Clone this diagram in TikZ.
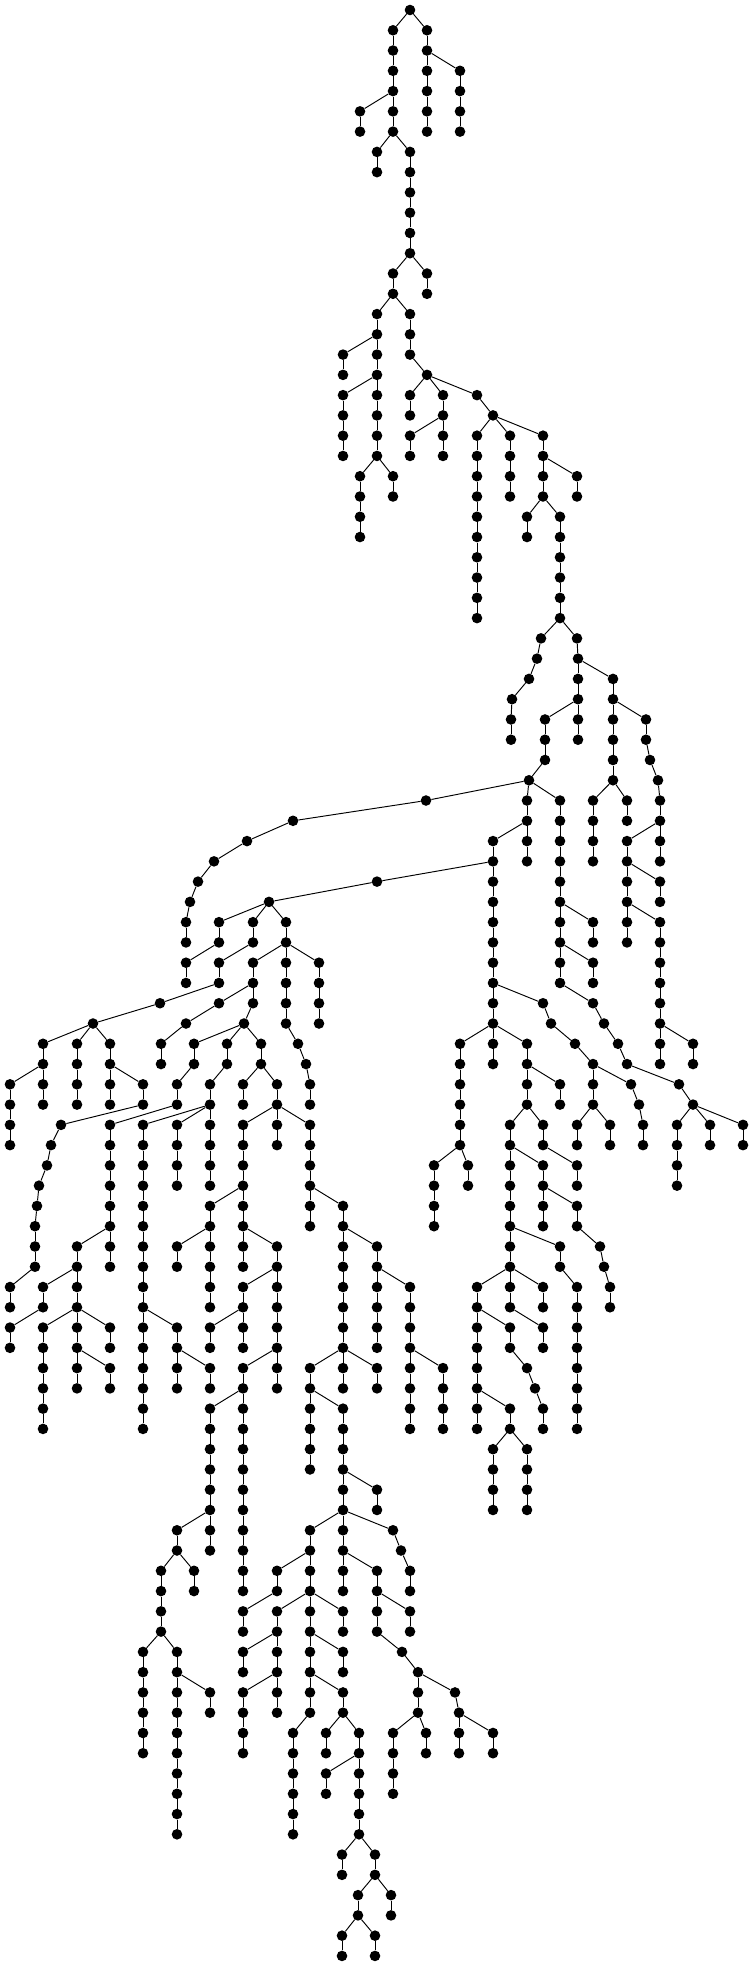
\documentclass[tikz,border=0pt]{standalone}
\begin{document}
\begin{tikzpicture}[x=1pt,y=1pt,
  dot/.style={circle,fill=black,inner sep=0pt,minimum size=10.6pt},
  edge/.style={line width=0.95pt,black}]
\path[use as bounding box] (0,0) rectangle (754,-1966);
\node[dot] (n0-410) at (410,-10) {};
\foreach \x/\l/\p in {
393/1/410, 427/1/410,
393/2/393, 427/2/427,
393/3/393, 427/3/427, 460/3/427,
393/4/393, 427/4/427, 460/4/460,
360/5/393, 393/5/393, 427/5/427, 460/5/460,
360/6/360, 393/6/393, 427/6/427, 460/6/460,
377/7/393, 410/7/393,
377/8/377, 410/8/410,
410/9/410, 410/10/410, 410/11/410, 410/12/410,
393/13/410, 427/13/410,
393/14/393, 427/14/427,
377/15/393, 410/15/393,
377/16/377, 410/16/410,
343/17/377, 377/17/377, 410/17/410,
343/18/343, 377/18/377, 427/18/410,
343/19/377, 377/19/377, 410/19/427, 443/19/427, 477/19/427,
343/20/343, 377/20/377, 410/20/410, 443/20/443, 493/20/477,
343/21/343, 377/21/377, 410/21/443, 443/21/443, 477/21/493, 510/21/493, 543/21/493,
343/22/343, 377/22/377, 410/22/410, 443/22/443, 477/22/477, 510/22/510, 543/22/543,
360/23/377, 393/23/377, 477/23/477, 510/23/510, 543/23/543, 577/23/543,
360/24/360, 393/24/393, 477/24/477, 510/24/510, 543/24/543, 577/24/577,
360/25/360, 477/25/477, 527/25/543, 560/25/543,
360/26/360, 477/26/477, 527/26/527, 560/26/560,
477/27/477, 560/27/560,
477/28/477, 560/28/560,
477/29/477, 560/29/560,
477/30/477, 560/30/560,
541/31/560, 577/31/560,
537/32/541, 578/32/577,
529/33/537, 578/33/578, 613/33/578,
512/34/529, 578/34/578, 613/34/613,
511/35/512, 545/35/578, 578/35/578, 613/35/613, 646/35/613,
511/36/511, 545/36/545, 578/36/578, 613/36/613, 646/36/646,
545/37/545, 613/37/613, 650/37/646,
529/38/545, 613/38/613, 658/38/650,
426/39/529, 527/39/529, 560/39/529, 593/39/613, 627/39/613, 660/39/658,
293/40/426, 527/40/527, 560/40/560, 593/40/593, 627/40/627, 660/40/660,
247/41/293, 493/41/527, 527/41/527, 560/41/560, 593/41/593, 627/41/660, 660/41/660,
214/42/247, 493/42/493, 527/42/527, 560/42/560, 593/42/593, 627/42/627, 660/42/660,
198/43/214, 377/43/493, 493/43/493, 560/43/560, 627/43/627, 660/43/627,
190/44/198, 269/44/377, 493/44/493, 560/44/560, 627/44/627, 660/44/660,
186/45/190, 219/45/269, 253/45/269, 286/45/269, 493/45/493, 560/45/560, 593/45/560, 627/45/627, 660/45/627,
186/46/186, 219/46/219, 253/46/253, 286/46/286, 493/46/493, 560/46/560, 593/46/593, 627/46/627, 660/46/660,
186/47/219, 219/47/253, 253/47/286, 286/47/286, 319/47/286, 493/47/493, 560/47/560, 593/47/560, 660/47/660,
186/48/186, 219/48/219, 253/48/253, 286/48/286, 319/48/319, 493/48/493, 560/48/560, 593/48/593, 660/48/660,
160/49/219, 219/49/253, 253/49/253, 286/49/286, 319/49/319, 493/49/493, 543/49/493, 593/49/560, 660/49/660,
93/50/160, 186/50/219, 244/50/253, 286/50/286, 319/50/319, 493/50/493, 551/50/543, 604/50/593, 660/50/660,
43/51/93, 77/51/93, 110/51/93, 161/51/186, 194/51/244, 227/51/244, 261/51/244, 298/51/286, 460/51/493, 493/51/493, 527/51/493, 575/51/551, 618/51/604, 660/51/660, 693/51/660,
43/52/43, 77/52/77, 110/52/110, 161/52/161, 194/52/194, 227/52/227, 261/52/261, 306/52/298, 460/52/460, 493/52/493, 527/52/527, 593/52/575, 627/52/618, 660/52/660, 693/52/693,
10/53/43, 43/53/43, 77/53/77, 110/53/110, 143/53/110, 177/53/194, 210/53/227, 243/53/261, 277/53/261, 310/53/306, 460/53/460, 527/53/527, 560/53/527, 593/53/593, 631/53/593, 679/53/627,
10/54/10, 43/54/43, 77/54/77, 110/54/110, 143/54/143, 177/54/177, 210/54/210, 243/54/243, 277/54/277, 310/54/310, 460/54/460, 527/54/527, 560/54/560, 593/54/593, 639/54/631, 693/54/679,
10/55/10, 61/55/143, 110/55/177, 143/55/210, 177/55/210, 210/55/210, 243/55/277, 277/55/277, 310/55/277, 460/55/460, 510/55/527, 543/55/527, 577/55/593, 610/55/593, 643/55/639, 677/55/693, 710/55/693, 743/55/693,
10/56/10, 51/56/61, 110/56/110, 143/56/143, 177/56/177, 210/56/210, 243/56/243, 277/56/277, 310/56/310, 460/56/460, 510/56/510, 543/56/543, 577/56/577, 610/56/610, 643/56/643, 677/56/677, 710/56/710, 743/56/743,
47/57/51, 110/57/110, 143/57/143, 177/57/177, 210/57/210, 243/57/243, 310/57/310, 434/57/460, 468/57/460, 510/57/510, 543/57/510, 577/57/543, 677/57/677,
39/58/47, 110/58/110, 143/58/143, 177/58/177, 210/58/210, 243/58/243, 310/58/310, 434/58/434, 468/58/468, 510/58/510, 543/58/543, 577/58/577, 677/58/677,
37/59/39, 110/59/110, 143/59/143, 210/59/243, 243/59/243, 310/59/310, 343/59/310, 434/59/434, 510/59/510, 543/59/543, 577/59/543,
35/60/37, 110/60/110, 143/60/143, 210/60/210, 243/60/243, 310/60/310, 343/60/343, 434/60/434, 510/60/510, 543/60/543, 577/60/577,
35/61/35, 77/61/110, 110/61/110, 143/61/143, 177/61/210, 210/61/210, 243/61/243, 277/61/243, 343/61/343, 377/61/343, 510/61/510, 560/61/510, 600/61/577,
35/62/35, 77/62/77, 110/62/110, 143/62/143, 177/62/177, 210/62/210, 243/62/243, 277/62/277, 343/62/343, 377/62/377, 510/62/510, 560/62/560, 604/62/600,
10/63/35, 43/63/77, 77/63/77, 143/63/143, 210/63/210, 243/63/277, 277/63/277, 343/63/343, 377/63/377, 410/63/377, 477/63/510, 510/63/510, 543/63/510, 577/63/560, 610/63/604,
10/64/10, 43/64/43, 77/64/77, 143/64/143, 210/64/210, 243/64/243, 277/64/277, 343/64/343, 377/64/377, 410/64/410, 477/64/477, 510/64/510, 543/64/543, 577/64/577, 610/64/610,
10/65/43, 43/65/77, 77/65/77, 110/65/77, 143/65/143, 177/65/143, 210/65/243, 243/65/243, 277/65/277, 343/65/343, 377/65/377, 410/65/410, 477/65/477, 510/65/477, 543/65/510, 577/65/577,
10/66/10, 43/66/43, 77/66/77, 110/66/110, 143/66/143, 177/66/177, 210/66/210, 243/66/243, 277/66/277, 343/66/343, 377/66/377, 410/66/410, 477/66/477, 510/66/510, 543/66/543, 577/66/577,
43/67/43, 77/67/77, 110/67/77, 143/67/143, 177/67/177, 210/67/177, 243/67/277, 277/67/277, 310/67/343, 343/67/343, 377/67/343, 410/67/410, 443/67/410, 477/67/477, 527/67/510, 577/67/577,
43/68/43, 77/68/77, 110/68/110, 143/68/143, 177/68/177, 210/68/210, 243/68/243, 277/68/277, 310/68/310, 343/68/343, 377/68/377, 410/68/410, 443/68/443, 477/68/477, 535/68/527, 577/68/577,
43/69/43, 143/69/143, 210/69/243, 243/69/243, 310/69/310, 343/69/310, 410/69/410, 443/69/443, 477/69/477, 510/69/477, 543/69/535, 577/69/577,
43/70/43, 143/70/143, 210/70/210, 243/70/243, 310/70/310, 343/70/343, 410/70/410, 443/70/443, 477/70/477, 510/70/510, 543/70/543, 577/70/577,
210/71/210, 243/71/243, 310/71/310, 343/71/343, 493/71/510, 527/71/510,
210/72/210, 243/72/243, 310/72/310, 343/72/343, 493/72/493, 527/72/527,
210/73/210, 243/73/243, 343/73/343, 377/73/343, 493/73/493, 527/73/527,
210/74/210, 243/74/243, 343/74/343, 377/74/377, 493/74/493, 527/74/527,
177/75/210, 210/75/210, 243/75/243, 310/75/343, 343/75/343, 393/75/343,
177/76/177, 210/76/210, 243/76/243, 310/76/310, 343/76/343, 401/76/393,
161/77/177, 194/77/177, 243/77/243, 277/77/310, 310/77/310, 343/77/343, 377/77/343, 410/77/401,
161/78/161, 194/78/194, 243/78/243, 277/78/277, 310/78/310, 343/78/343, 377/78/377, 410/78/410,
161/79/161, 243/79/277, 277/79/310, 310/79/310, 343/79/310, 377/79/377, 410/79/377,
161/80/161, 243/80/243, 277/80/277, 310/80/310, 343/80/343, 377/80/377, 410/80/410,
143/81/161, 177/81/161, 243/81/277, 277/81/277, 310/81/310, 343/81/310, 402/81/377,
143/82/143, 177/82/177, 243/82/243, 277/82/277, 310/82/310, 343/82/343, 418/82/402,
143/83/143, 177/83/177, 210/83/177, 243/83/277, 277/83/277, 310/83/310, 343/83/310, 418/83/418, 455/83/418,
143/84/143, 177/84/177, 210/84/210, 243/84/243, 277/84/277, 310/84/310, 343/84/343, 418/84/418, 459/84/455,
143/85/143, 177/85/177, 243/85/243, 293/85/310, 326/85/343, 359/85/343, 393/85/418, 426/85/418, 459/85/459, 493/85/459,
143/86/143, 177/86/177, 243/86/243, 293/86/293, 326/86/326, 359/86/359, 393/86/393, 426/86/426, 459/86/459, 493/86/493,
177/87/177, 293/87/293, 326/87/359, 359/87/359, 393/87/393,
177/88/177, 293/88/293, 326/88/326, 359/88/359, 393/88/393,
177/89/177, 293/89/293, 359/89/359,
177/90/177, 293/90/293, 359/90/359,
342/91/359, 375/91/359,
342/92/342, 375/92/375,
358/93/375, 391/93/375,
358/94/358, 391/94/391,
342/95/358, 375/95/358,
342/96/342, 375/96/375}
{
  \pgfmathtruncatemacro\pl{\l-1}
  \node[dot] (n\l-\x) at (\x,{-10-20.27*\l}) {};
  \draw[edge] (n\pl-\p) -- (n\l-\x);
}
\end{tikzpicture}
\end{document}
